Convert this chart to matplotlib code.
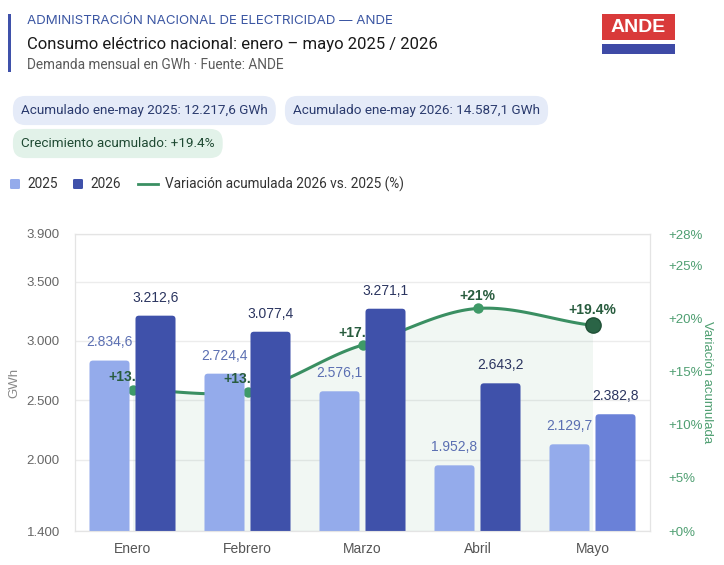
import numpy as np
import matplotlib
matplotlib.use("Agg")
import matplotlib.pyplot as plt
from matplotlib.patches import FancyBboxPatch, Rectangle
from matplotlib.lines import Line2D

# data
meses = ["Enero", "Febrero", "Marzo", "Abril", "Mayo"]
consumo_2025 = [2834.6, 2724.4, 2576.1, 1952.8, 2129.7]
consumo_2026 = [3212.6, 3077.4, 3271.1, 2643.2, 2382.8]
variacion_acum = [13.34, 13.15, 17.53, 20.98, 19.39]
variacion_txt = ["+13.3%", "+13.2%", "+17.5%", "+21%", "+19.4%"]
ticks_gwh = [1400, 2000, 2500, 3000, 3500, 3900]
ticks_pct = [0, 5, 10, 15, 20, 25, 28]
acum_2025 = "12.217,6"
acum_2026 = "14.587,1"
crec_acum = "+19.4%"

W, H = 724, 565
C25 = "#94abeb"
C26 = "#3f51aa"
C26_ULT = "#6a81d8"
VERDE = "#3a8f62"
VERDE_OSC = "#2a6446"

HEAD_FONT = ["Roboto", "DejaVu Sans"]
CHART_FONT = ["Liberation Sans", "DejaVu Sans"]


def fx(x):
    return x / W


def fy(y):
    return 1 - y / H


def gwh(v):
    return f"{v:,.1f}".replace(",", "X").replace(".", ",").replace("X", ".")


fig = plt.figure(figsize=(W / 100, H / 100), dpi=100)
fig.patch.set_facecolor("white")

# header
fig.add_artist(Rectangle((fx(8), fy(72)), fx(3), fy(14) - fy(72), color=C26, lw=0))
fig.text(fx(27), fy(21), "ADMINISTRACIÓN NACIONAL DE ELECTRICIDAD — ANDE", fontsize=9.6,
         color="#3c57a3", family=["Inter", "DejaVu Sans"], va="center")
fig.text(fx(27), fy(44), "Consumo eléctrico nacional: enero – mayo 2025 / 2026", fontsize=12,
         color="#1a1a1a", family=HEAD_FONT, va="center")
fig.text(fx(27), fy(65), "Demanda mensual en GWh · Fuente: ANDE", fontsize=9.8,
         color="#5b5b5b", family=HEAD_FONT, va="center")

# logo
fig.add_artist(Rectangle((fx(602), fy(40)), fx(73), fy(14) - fy(40), color="#d93a3a", lw=0))
fig.add_artist(Rectangle((fx(602), fy(54)), fx(73), fy(44) - fy(54), color="#3e4aa6", lw=0))
fig.text(fx(638.5), fy(27), "ANDE", fontsize=14, color="white", weight="bold",
         family=["Liberation Sans", "DejaVu Sans"], ha="center", va="center")

# pills
pill = dict(boxstyle="round,pad=0.6,rounding_size=0.95", lw=0)
fig.text(fx(21), fy(110.5), f"Acumulado ene-may 2025: {acum_2025} GWh", fontsize=9.7,
         color="#2b3b6e", family=HEAD_FONT, va="center", bbox=dict(pill, fc="#e5ebf8"))
fig.text(fx(293), fy(110.5), f"Acumulado ene-may 2026: {acum_2026} GWh", fontsize=9.7,
         color="#2b3b6e", family=HEAD_FONT, va="center", bbox=dict(pill, fc="#e5ebf8"))
fig.text(fx(21), fy(143.5), f"Crecimiento acumulado: {crec_acum}", fontsize=9.7,
         color="#1f4a33", family=HEAD_FONT, va="center", bbox=dict(pill, fc="#e2f2e9"))

# legend
fig.add_artist(FancyBboxPatch((fx(10), fy(189)), fx(10), fy(179) - fy(189),
                              boxstyle="round,pad=0,rounding_size=0.002", color=C25, lw=0))
fig.text(fx(27), fy(184), "2025", fontsize=9.8, color="#333333", family=HEAD_FONT, va="center")
fig.add_artist(FancyBboxPatch((fx(73), fy(189)), fx(10), fy(179) - fy(189),
                              boxstyle="round,pad=0,rounding_size=0.002", color=C26, lw=0))
fig.text(fx(90), fy(184), "2026", fontsize=9.8, color="#333333", family=HEAD_FONT, va="center")
fig.add_artist(Line2D([fx(138), fx(158)], [fy(184), fy(184)], color=VERDE, lw=2))
fig.text(fx(165), fy(184), "Variación acumulada 2026 vs. 2025 (%)", fontsize=9.8,
         color="#333333", family=HEAD_FONT, va="center")

# axes
ax = fig.add_axes([fx(75), fy(531), fx(650) - fx(75), fy(234) - fy(531)])
ax2 = ax.twinx()
x = np.arange(len(meses))
ax.set_xlim(-0.5, len(meses) - 0.5)
ax.set_ylim(ticks_gwh[0], ticks_gwh[-1])
ax2.set_ylim(ticks_pct[0], ticks_pct[-1])

ax.set_yticks(ticks_gwh)
ax.set_yticklabels([f"{t:,}".replace(",", ".") for t in ticks_gwh])
ax.set_xticks(x)
ax.set_xticklabels(meses)
ax2.set_yticks(ticks_pct)
ax2.set_yticklabels([f"+{t}%" for t in ticks_pct])
ax.grid(axis="y", color="#ececec", lw=1)
ax.set_axisbelow(True)
for a in (ax, ax2):
    for s in a.spines.values():
        s.set_color("#e4e4e4")
ax.tick_params(axis="y", length=0, pad=11, labelsize=9.5, labelcolor="#666666")
ax.tick_params(axis="x", length=0, pad=8, labelsize=10, labelcolor="#555555")
ax2.tick_params(axis="y", length=0, pad=13, labelsize=9.5, labelcolor="#4f9f72")
for lab in ax.get_xticklabels() + ax.get_yticklabels() + ax2.get_yticklabels():
    lab.set_family(CHART_FONT)
ax.set_ylabel("GWh", color="#888888", fontsize=9.5, family=CHART_FONT)
ax.yaxis.set_label_coords((20 - 75) / 575, 0.5)
ax2.set_ylabel("Variación acumulada", color="#4f9f72", fontsize=9.5, family=CHART_FONT,
               rotation=270, va="center")
ax2.yaxis.set_label_coords((707 - 75) / 575, 0.5)

# smooth curve (catmull-rom) for the cumulative variation, drawn behind the bars
pts = np.array(variacion_acum)
n = len(pts)
tang = np.zeros(n)
tang[1:-1] = (pts[2:] - pts[:-2]) / 2
tang[0] = pts[1] - pts[0]
tang[-1] = pts[-1] - pts[-2]
tang *= 0.8
xs, ys = [], []
for i in range(n - 1):
    t = np.linspace(0, 1, 30)
    h00 = 2 * t**3 - 3 * t**2 + 1
    h10 = t**3 - 2 * t**2 + t
    h01 = -2 * t**3 + 3 * t**2
    h11 = t**3 - t**2
    xs.extend(i + t)
    ys.extend(h00 * pts[i] + h10 * tang[i] + h01 * pts[i + 1] + h11 * tang[i + 1])
xs, ys = np.array(xs), np.array(ys)

tr = ax2.transData
ax.fill_between(xs, 0, ys, color="#3a8f62", alpha=0.07, lw=0, transform=tr, zorder=1)
ax.plot(xs, ys, color=VERDE, lw=2.2, transform=tr, zorder=2, solid_capstyle="round")
ax.plot(x[:-1], variacion_acum[:-1], "o", color="#3f9a68", ms=7.5, mew=0, transform=tr, zorder=2)
ax.plot(x[-1:], variacion_acum[-1:], "o", color=VERDE_OSC, ms=11, mec="#1f5036", mew=1,
        transform=tr, zorder=2)

# bars
bw = 0.348
off = 0.2
radius = 0.03


def rounded_bars(vals, pos, colors, z):
    bars = ax.bar(pos, vals, width=bw, bottom=0, color="none", lw=0)
    for rect, c in zip(bars, colors):
        x0, w_ = rect.get_x(), rect.get_width()
        top = rect.get_height()
        ax.add_patch(FancyBboxPatch((x0, ticks_gwh[0] - 200), w_, top - ticks_gwh[0] + 200,
                                    boxstyle=f"round,pad=0,rounding_size={radius}",
                                    mutation_aspect=2500 / 297 * 115, fc=c, lw=0, zorder=z))
    return bars


rounded_bars(consumo_2025, x - off, [C25] * n, 3)
rounded_bars(consumo_2026, x + off, [C26] * (n - 1) + [C26_ULT], 4)

for i in range(n):
    ax.annotate(gwh(consumo_2025[i]), (x[i] - off, consumo_2025[i]), xytext=(0, 8),
                textcoords="offset points", ha="center", va="bottom", fontsize=10,
                color="#5b6fb2", family=CHART_FONT, zorder=5)
    ax.annotate(gwh(consumo_2026[i]), (x[i] + off, consumo_2026[i]), xytext=(0, 8),
                textcoords="offset points", ha="center", va="bottom", fontsize=10,
                color="#2b3560", family=CHART_FONT, zorder=5)
    dy = 9 if i < n - 1 else 11
    ax.annotate(variacion_txt[i], (x[i], variacion_acum[i]), xycoords=tr, xytext=(0, dy),
                textcoords="offset points", ha="center", va="center", fontsize=10,
                color="#285c3e", weight="bold", family=CHART_FONT, zorder=3.5)

ax.set_xlim(-0.5, len(meses) - 0.5)
ax.set_ylim(ticks_gwh[0], ticks_gwh[-1])

fig.savefig("out.png", dpi=100, facecolor="white")
